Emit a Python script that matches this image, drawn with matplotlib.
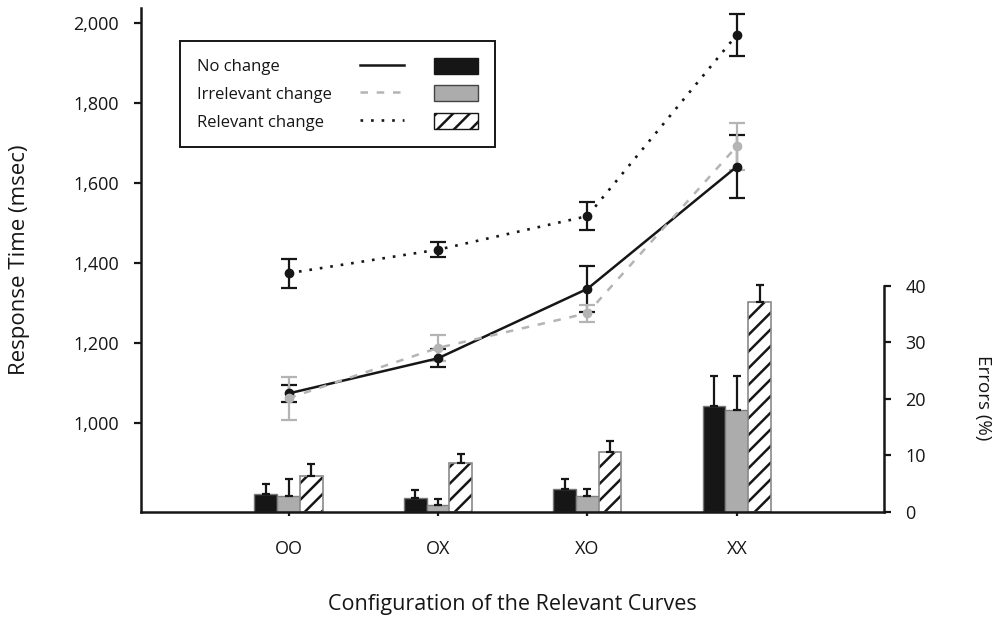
import numpy as np
import matplotlib
matplotlib.use('Agg')
import matplotlib.pyplot as plt
from matplotlib.lines import Line2D
from matplotlib.patches import Patch
from matplotlib.legend_handler import HandlerTuple
from matplotlib.ticker import FuncFormatter

# ---------------- data ----------------
categories = ['OO', 'OX', 'XO', 'XX']
series_labels = ['No change', 'Irrelevant change', 'Relevant change']

rt_no_change = [1073, 1161, 1335, 1641]
rt_no_change_se = [22, 23, 58, 78]
rt_irrelevant = [1061, 1187, 1274, 1692]
rt_irrelevant_se = [54, 33, 21, 59]
rt_relevant = [1374, 1433, 1517, 1971]
rt_relevant_se = [36, 18, 36, 52]

err_no_change = [3.1, 2.5, 4.0, 18.7]
err_no_change_se = [1.8, 1.4, 1.7, 5.4]
err_irrelevant = [2.8, 1.2, 2.7, 18.0]
err_irrelevant_se = [3.0, 1.1, 1.4, 6.0]
err_relevant = [6.4, 8.7, 10.5, 37.2]
err_relevant_se = [2.0, 1.5, 2.0, 3.0]

rt_ticks = [1000, 1200, 1400, 1600, 1800, 2000]
err_ticks = [0, 10, 20, 30, 40]

# ---------------- style ----------------
plt.rcParams['font.family'] = ['Open Sans', 'DejaVu Sans']
plt.rcParams['hatch.linewidth'] = 1.8
BLACK = '#161616'
GRAY_LINE = '#b4b4b4'
GRAY_BAR = '#acacac'
DASH = (0, (3, 3.5))
DOT = (0, (1, 3))
HATCH = '//'

fig = plt.figure(figsize=(9.96, 6.17), dpi=100)
ax = fig.add_axes([0.1419, 0.1707, 0.7457, 0.8163])
ax2 = ax.twinx()
ax.set_zorder(2)
ax.patch.set_visible(False)

x = np.arange(len(categories))

# ---------------- bars (errors, right axis) ----------------
w = 0.152
ekw = dict(ecolor=BLACK, elinewidth=1.6, capsize=3, capthick=1.6)
zeros = np.zeros(len(categories))
ax2.bar(x - w, err_no_change, w, color=BLACK, edgecolor='#777777', linewidth=1,
        yerr=[zeros, err_no_change_se], error_kw=ekw)
ax2.bar(x, err_irrelevant, w, color=GRAY_BAR, edgecolor='#808080', linewidth=1,
        yerr=[zeros, err_irrelevant_se], error_kw=ekw)
ax2.bar(x + w, err_relevant, w, color='white', edgecolor=BLACK, hatch=HATCH, linewidth=0,
        yerr=[zeros, err_relevant_se], error_kw=ekw)
ax2.bar(x + w, err_relevant, w, fill=False, edgecolor='#8a8a8a', linewidth=1.2)

# ---------------- lines (response time, left axis) ----------------
lkw = dict(marker='o', ms=6, elinewidth=1.6, capsize=5.5, capthick=1.6)
ax.errorbar(x, rt_no_change, yerr=rt_no_change_se, color=BLACK, ecolor=BLACK,
            lw=1.8, **lkw)
ax.errorbar(x, rt_irrelevant, yerr=rt_irrelevant_se, color=GRAY_LINE, ecolor=GRAY_LINE,
            lw=1.8, ls=DASH, **lkw)
ax.errorbar(x, rt_relevant, yerr=rt_relevant_se, color=BLACK, ecolor=BLACK,
            lw=1.9, ls=DOT, **lkw)

# ---------------- axes ----------------
ax.set_xlim(-0.985, 3.985)
ax.set_ylim(777, 2038)
ax2.set_ylim(0, 89.15)

ax.set_xticks(x, categories)
ax.set_yticks(rt_ticks)
ax.yaxis.set_major_formatter(FuncFormatter(lambda v, p: f'{v:,.0f}'))
ax2.set_yticks(err_ticks)

for s in ['top', 'right']:
    ax.spines[s].set_visible(False)
for s in ['top', 'left', 'bottom']:
    ax2.spines[s].set_visible(False)
for sp in [ax.spines['left'], ax.spines['bottom'], ax2.spines['right']]:
    sp.set_linewidth(1.8)
    sp.set_color(BLACK)
ax2.spines['right'].set_bounds(0, 40)

ax.tick_params(axis='y', direction='out', length=5, width=1.6, pad=11,
               labelsize=13, colors=BLACK)
ax.tick_params(axis='x', direction='out', length=3, width=1.6, pad=17.5,
               labelsize=13, colors=BLACK)
ax2.tick_params(axis='y', direction='out', length=5, width=1.6, pad=10.5,
                labelsize=13, colors=BLACK)

ax.set_ylabel('Response Time (msec)', fontsize=16, va='center', ha='center', color=BLACK)
ax.yaxis.set_label_coords(-0.164, 0.5)
ax.set_xlabel('Configuration of the Relevant Curves', fontsize=15.5, va='center',
              ha='center', color=BLACK)
ax.xaxis.set_label_coords(0.5, -0.185)
ax2.set_ylabel('Errors (%)', fontsize=13.5, rotation=270, va='center', ha='center',
               color=BLACK)
ax2.yaxis.set_label_coords(1.1333, 0.2257)

# ---------------- legend ----------------
line_handles = [Line2D([], [], color=BLACK, lw=1.8),
                Line2D([], [], color=GRAY_LINE, lw=1.8, ls=DASH),
                Line2D([], [], color=BLACK, lw=1.9, ls=DOT)]
patch_handles = [Patch(facecolor=BLACK, edgecolor=BLACK),
                 Patch(facecolor=GRAY_BAR, edgecolor='#444444'),
                 Patch(facecolor='white', edgecolor=BLACK, hatch=HATCH)]
blank = [Line2D([], [], color='none') for _ in series_labels]
box = (0.0521, 0.728, 0.4239, 0.2065)
common = dict(fontsize=12, borderpad=1.0, labelspacing=0.59, handleheight=1.12,
              borderaxespad=0)
leg1 = ax.legend(blank, series_labels, loc='upper left', bbox_to_anchor=box,
                 mode='expand', handlelength=0, handletextpad=0, frameon=True,
                 fancybox=False, edgecolor=BLACK, framealpha=1, **common)
leg1.get_frame().set_linewidth(1.4)
for t in leg1.get_texts():
    t.set_color(BLACK)
ax.add_artist(leg1)
leg2 = ax.legend(list(zip(line_handles, patch_handles)), ['' for _ in series_labels],
                 loc='upper right', bbox_to_anchor=box, handlelength=7.12,
                 handletextpad=0, frameon=False,
                 handler_map={tuple: HandlerTuple(ndivide=2, pad=1.8)}, **common)

fig.savefig('out.png', dpi=100)
